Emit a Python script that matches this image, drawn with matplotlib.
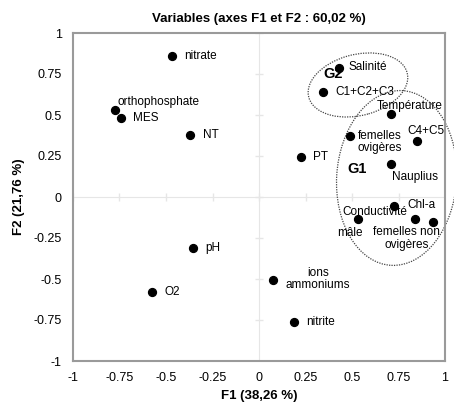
import matplotlib

matplotlib.use("Agg")

import matplotlib.pyplot as plt
from matplotlib.patches import Ellipse

# variable coordinates on F1 / F2
names = ["nitrate", "Salinité", "C1+C2+C3", "orthophosphate", "MES", "NT",
         "Température", "femelles\novigères", "C4+C5", "PT", "Nauplius",
         "Chl-a", "mâle", "Conductivité", "femelles non\novigères",
         "pH", "O2", "ions\nammoniums", "nitrite"]
f1 = [-0.47, 0.43, 0.344, -0.774, -0.742, -0.37,
      0.71, 0.489, 0.849, 0.226, 0.71,
      0.726, 0.532, 0.839, 0.935,
      -0.355, -0.575, 0.075, 0.188]
f2 = [0.86, 0.787, 0.64, 0.53, 0.48, 0.378,
      0.506, 0.372, 0.34, 0.244, 0.2,
      -0.055, -0.134, -0.134, -0.15,
      -0.311, -0.579, -0.506, -0.762]

tick_vals = [-1, -0.75, -0.5, -0.25, 0, 0.25, 0.5, 0.75, 1]
tick_labels = ["-1", "-0.75", "-0.5", "-0.25", "0", "0.25", "0.5", "0.75", "1"]

# label placement: offset in pixels (dx right, dy up) and alignment
label_pos = {
    "nitrate": (13, 0, "left"),
    "Salinité": (10, 1, "left"),
    "C1+C2+C3": (12, 0, "left"),
    "orthophosphate": (2, 8, "left"),
    "MES": (12, 0, "left"),
    "NT": (13, 0, "left"),
    "Température": (-14, 8, "left"),
    "femelles\novigères": (30, -6, "center"),
    "C4+C5": (-10, 10, "left"),
    "PT": (12, 0, "left"),
    "Nauplius": (1, -13, "left"),
    "Chl-a": (13, 1, "left"),
    "mâle": (-21, -14, "left"),
    "Conductivité": (-73, 7, "left"),
    "femelles non\novigères": (-26, -17, "center"),
    "pH": (12, 0, "left"),
    "O2": (12, 0, "left"),
    "ions\nammoniums": (45, 1, "center"),
    "nitrite": (12, 0, "left"),
}

plt.rcParams["font.family"] = ["Liberation Sans", "DejaVu Sans"]

fig = plt.figure(figsize=(4.54, 4.03), dpi=100)
ax = fig.add_axes([73 / 454, 42 / 403, 372 / 454, 328 / 403])

ax.set_xlim(-1, 1)
ax.set_ylim(-1, 1)

# faint zero lines with little ticks
zero_col = "#e6e6e6"
ax.axhline(0, color=zero_col, lw=0.8, zorder=0)
ax.axvline(0, color=zero_col, lw=0.8, zorder=0)
ax.plot(tick_vals, [0] * len(tick_vals), ls="none", marker="|", ms=6, color=zero_col, zorder=0)
ax.plot([0] * len(tick_vals), tick_vals, ls="none", marker="_", ms=6, color=zero_col, zorder=0)

ax.scatter(f1, f2, s=32, color="black", zorder=3)

px = 0.72  # points per pixel at 100 dpi
for name, x, y in zip(names, f1, f2):
    dx, dy, ha = label_pos[name]
    ax.annotate(name, (x, y), xytext=(dx * px, dy * px), textcoords="offset points",
                ha=ha, va="center", fontsize=8.5, linespacing=1.05, zorder=4)

# groups
ax.add_patch(Ellipse((0.532, 0.683), 0.55, 0.37, angle=18, fill=False,
                     ls=(0, (1, 1)), lw=0.9, color="#444444", clip_on=False))
ax.add_patch(Ellipse((0.74, 0.116), 0.645, 1.067, angle=-3, fill=False,
                     ls=(0, (1, 1)), lw=0.9, color="#444444", clip_on=False))
ax.text(0.40, 0.75, "G2", fontsize=10.5, fontweight="bold", ha="center", va="center", zorder=2)
ax.text(0.527, 0.17, "G1", fontsize=10.5, fontweight="bold", ha="center", va="center")

for side in ax.spines.values():
    side.set_color("#9a9a9a")
    side.set_linewidth(1.5)

ax.set_xticks(tick_vals)
ax.set_xticklabels(tick_labels)
ax.set_yticks(tick_vals)
ax.set_yticklabels(tick_labels)
ax.tick_params(length=0, labelsize=9)
ax.tick_params(axis="y", pad=8)
ax.tick_params(axis="x", pad=8)

ax.set_title("Variables (axes F1 et F2 : 60,02 %)", fontsize=9.5, fontweight="bold", pad=8)
ax.set_xlabel("F1 (38,26 %)", fontsize=9.5, fontweight="bold", labelpad=4)
ax.set_ylabel("F2 (21,76 %)", fontsize=9.5, fontweight="bold", labelpad=6)

fig.savefig("out.png", dpi=100)
